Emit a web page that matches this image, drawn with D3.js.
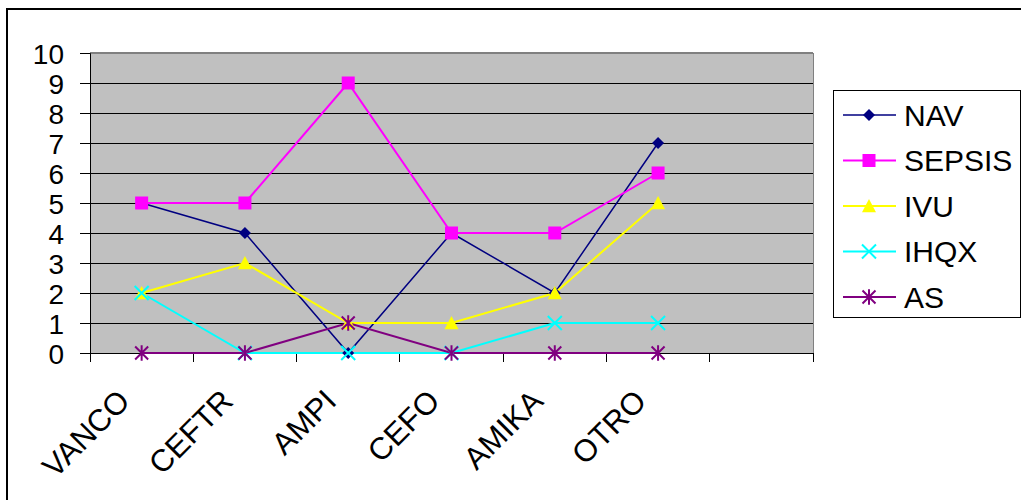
<!DOCTYPE html>
<html><head><meta charset="utf-8">
<script src="https://cdn.jsdelivr.net/npm/d3@7"></script>
<style>html,body{margin:0;padding:0;background:#fff;}svg{display:block;}</style>
</head><body>
<svg id="c" width="1021" height="500"></svg>
<script>
const categories = ["VANCO","CEFTR","AMPI","CEFO","AMIKA","OTRO",""];
const yTicks = [0,1,2,3,4,5,6,7,8,9,10];
const NAV = [5,4,0,4,2,7];
const SEPSIS = [5,5,9,4,4,6];
const IVU = [2,3,1,1,2,5];
const IHQX = [2,0,0,0,1,1];
const AS = [0,0,1,0,0,0];
const seriesNames = ["NAV","SEPSIS","IVU","IHQX","AS"];
const seriesColors = ["#000080","#FF00FF","#FFFF00","#00FFFF","#800080"];
const seriesMarkers = ["diamond","square","triangle","x","star"];
const seriesData = [NAV,SEPSIS,IVU,IHQX,AS];

const font = "'Liberation Sans', Arial, sans-serif";
const svg = d3.select("#c");
svg.append("rect").attr("x",7).attr("y",9).attr("width",1040).attr("height",520)
  .attr("fill","#fff").attr("stroke","#000").attr("stroke-width",2);

const x = d3.scaleBand().domain(categories.map((c,i)=>i)).range([90,813]).padding(0);
const y = d3.scaleLinear().domain([0,10]).range([353,53]);

svg.append("rect").attr("x",90).attr("y",y(10)).attr("width",813-90).attr("height",y(0)-y(10))
  .attr("fill","#C0C0C0");
// grid
svg.append("g").selectAll("line").data(yTicks.filter(t=>t>0&&t<10)).join("line")
  .attr("x1",90).attr("x2",813).attr("y1",d=>y(d)).attr("y2",d=>y(d))
  .attr("stroke","#000").attr("stroke-width",1).attr("shape-rendering","crispEdges");
svg.append("line").attr("x1",90).attr("x2",813).attr("y1",y(10)).attr("y2",y(10))
  .attr("stroke","#808080").attr("stroke-width",2).attr("shape-rendering","crispEdges");
svg.append("line").attr("x1",813).attr("x2",813).attr("y1",y(10)).attr("y2",y(0))
  .attr("stroke","#808080").attr("stroke-width",1).attr("shape-rendering","crispEdges");

// y axis
const yAxis = d3.axisLeft(y).tickValues(yTicks).tickSize(10).tickPadding(16).tickFormat(d3.format("d"));
const gy = svg.append("g").attr("transform","translate(90,0)").call(yAxis);
gy.select(".domain").attr("stroke","#000").attr("stroke-width",1);
gy.selectAll(".tick line").attr("stroke","#000").attr("shape-rendering","crispEdges");
gy.selectAll("text").attr("font-family",font).attr("font-size",28).attr("fill","#000").attr("dy","0.36em");

// x axis
const gx = svg.append("g").attr("transform","translate(0,353)");
gx.append("line").attr("x1",90).attr("x2",813).attr("y1",0).attr("y2",0).attr("stroke","#000").attr("shape-rendering","crispEdges");
const bounds = categories.map((c,i)=>x(i)).concat([x(categories.length-1)+x.bandwidth()]);
gx.selectAll("line.t").data(bounds).join("line").attr("class","t")
  .attr("x1",d=>d).attr("x2",d=>d).attr("y1",0).attr("y2",9)
  .attr("stroke","#000").attr("shape-rendering","crispEdges");
gx.selectAll("text").data(categories.map((c,i)=>({c,i})).filter(d=>d.c)).join("text")
  .attr("transform",d=>`translate(${x(d.i)+x.bandwidth()/2-10},${50}) rotate(-45)`)
  .attr("text-anchor","end")
  .attr("font-family",font).attr("font-size",31).attr("fill","#000").text(d=>d.c);

function marker(g, type, color, s){
  if(type==="diamond"){
    g.append("path").attr("d",`M0,${-s}L${s},0L0,${s}L${-s},0Z`).attr("fill",color);
  } else if(type==="square"){
    g.append("rect").attr("x",-s).attr("y",-s).attr("width",2*s).attr("height",2*s).attr("fill",color);
  } else if(type==="triangle"){
    g.append("path").attr("d",`M0,${-s}L${s},${s*0.9}L${-s},${s*0.9}Z`).attr("fill",color);
  } else if(type==="x"){
    g.append("path").attr("d",`M${-s},${-s}L${s},${s}M${s},${-s}L${-s},${s}`).attr("stroke",color).attr("stroke-width",2);
  } else if(type==="star"){
    g.append("path").attr("d",`M${-s},${-s}L${s},${s}M${s},${-s}L${-s},${s}M0,${-s*1.2}L0,${s*1.2}`).attr("stroke",color).attr("stroke-width",2);
  }
}
const msize = [6,6.5,7,7,6.5];

const line = d3.line().x((d,i)=>x(i)+x.bandwidth()/2).y(d=>y(d));
seriesData.forEach((data,k)=>{
  svg.append("path").datum(data).attr("d",line).attr("fill","none")
    .attr("stroke",seriesColors[k]).attr("stroke-width",k===0?1.5:2);
});
seriesData.forEach((data,k)=>{
  data.forEach((v,i)=>{
    const g = svg.append("g").attr("transform",`translate(${x(i)+x.bandwidth()/2},${y(v)})`);
    marker(g, seriesMarkers[k], seriesColors[k], msize[k]);
  });
});

// legend
const lg = svg.append("g");
lg.append("rect").attr("x",833.5).attr("y",90.5).attr("width",187).attr("height",227)
  .attr("fill","#fff").attr("stroke","#000").attr("stroke-width",1);
seriesNames.forEach((n,k)=>{
  const yy = 115 + k*45.5;
  lg.append("line").attr("x1",843).attr("x2",896).attr("y1",yy).attr("y2",yy)
    .attr("stroke",seriesColors[k]).attr("stroke-width",k===0?1.5:2);
  const g = lg.append("g").attr("transform",`translate(869,${yy})`);
  marker(g, seriesMarkers[k], seriesColors[k], msize[k]);
  lg.append("text").attr("x",904).attr("y",yy).attr("dy","0.36em")
    .attr("font-family",font).attr("font-size",30).attr("fill","#000").text(n);
});
</script>
</body></html>
